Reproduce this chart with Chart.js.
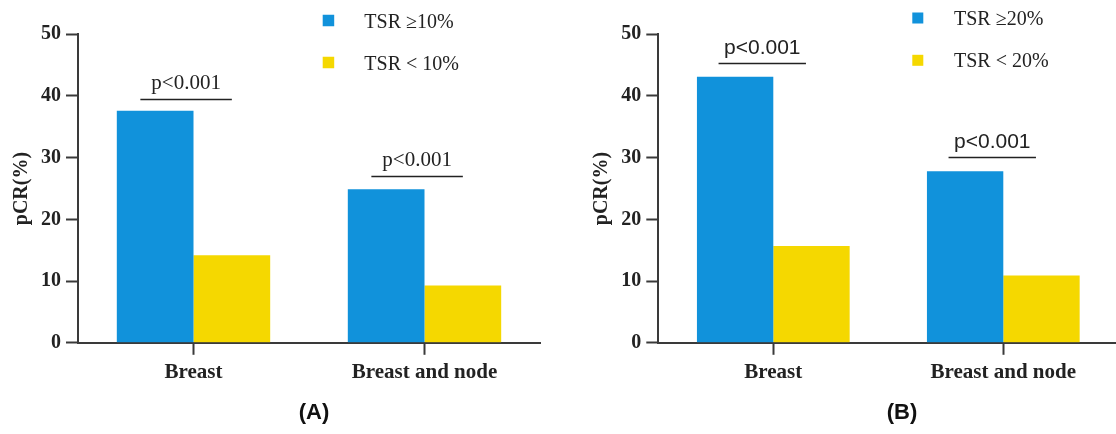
<!DOCTYPE html>
<html>
<head>
<meta charset="utf-8">
<title>pCR by TSR</title>
<script src="https://cdn.jsdelivr.net/npm/chart.js@4.4.1/dist/chart.umd.min.js"></script>
<style>
  html, body { margin: 0; padding: 0; background: #fff; overflow: hidden; }
  .panel { position: absolute; top: 0; }
  #panelA { left: 0; }
  #panelB { left: 560px; }
</style>
</head>
<body>
<canvas id="panelA" class="panel" width="560" height="434"></canvas>
<canvas id="panelB" class="panel" width="560" height="434"></canvas>
<script>
// Data
const categories = ['Breast', 'Breast and node'];
const seriesLabelsA = ['TSR ≥10%', 'TSR < 10%'];
const seriesLabelsB = ['TSR ≥20%', 'TSR < 20%'];
const highTsrA = [37.6, 24.9];
const lowTsrA = [14.2, 9.3];
const highTsrB = [43.1, 27.8];
const lowTsrB = [15.7, 10.9];
const pValues = ['p<0.001', 'p<0.001'];
const pBarA = [39.5, 27.1];
const pBarB = [45.3, 30.1];
const yMax = 50;
const yStep = 10;

const BLUE = '#1192db';
const YELLOW = '#f5d800';
const INK = '#222222';
const AXIS = '#3a3a3a';
const SERIF = "'Liberation Serif', 'Times New Roman', serif";
const SANS = "'Liberation Sans', Arial, sans-serif";

// legend, p-value brackets and panel letter
const extrasPlugin = {
  id: 'extras',
  afterDraw(chart, args, opts) {
    const ctx = chart.ctx;
    const x = chart.scales.x;
    const y = chart.scales.y;
    ctx.save();

    // legend
    chart.data.datasets.forEach((ds, i) => {
      const lg = opts.legend;
      const cy = lg.y[i];
      ctx.fillStyle = ds.backgroundColor;
      ctx.fillRect(lg.boxX, cy - lg.box / 2, lg.box, lg.box);
      ctx.fillStyle = INK;
      ctx.font = '20px ' + SERIF;
      ctx.textAlign = 'left';
      ctx.textBaseline = 'alphabetic';
      ctx.fillText(ds.label, lg.textX, cy + 7);
    });

    // significance brackets
    const catW = (x.right - x.left) / categories.length;
    opts.pBars.forEach((val, i) => {
      const cx = x.getPixelForValue(i) + opts.pShift * catW;
      const half = opts.pHalf * catW;
      const py = Math.round(y.getPixelForValue(val)) + 0.5;
      ctx.strokeStyle = INK;
      ctx.lineWidth = 1.6;
      ctx.beginPath();
      ctx.moveTo(cx - half, py);
      ctx.lineTo(cx + half, py);
      ctx.stroke();
      ctx.fillStyle = INK;
      ctx.font = '21px ' + opts.pFont;
      ctx.textAlign = 'center';
      ctx.textBaseline = 'alphabetic';
      ctx.fillText(pValues[i], cx, py - opts.pGap);
    });

    // panel letter
    ctx.fillStyle = '#111';
    ctx.font = 'bold 22px ' + SANS;
    ctx.textAlign = 'center';
    ctx.textBaseline = 'alphabetic';
    ctx.fillText(opts.letter, opts.letterX, 419);
    ctx.restore();
  }
};

function makePanel(canvasId, labels, high, low, extras, padLeft, padRight) {
  return new Chart(document.getElementById(canvasId), {
    type: 'bar',
    data: {
      labels: categories,
      datasets: [
        { label: labels[0], data: high, backgroundColor: BLUE, borderWidth: 0 },
        { label: labels[1], data: low, backgroundColor: YELLOW, borderWidth: 0 }
      ]
    },
    options: {
      responsive: false,
      animation: false,
      devicePixelRatio: 1,
      categoryPercentage: 0.664,
      barPercentage: 1,
      layout: { padding: { left: padLeft, right: padRight, top: 34.3, bottom: 0 } },
      plugins: {
        legend: { display: false },
        tooltip: { enabled: false },
        extras: extras
      },
      scales: {
        x: {
          afterFit(scale) { scale.height = 91.2; },
          grid: {
            offset: false,
            drawOnChartArea: false,
            tickLength: 12,
            tickColor: AXIS,
            tickWidth: 2
          },
          border: { color: AXIS, width: 2 },
          ticks: {
            color: INK,
            padding: 5,
            font: { family: SERIF, size: 21, weight: 'bold' }
          }
        },
        y: {
          min: 0,
          max: yMax,
          afterFit(scale) { scale.width = 78; },
          grid: {
            drawOnChartArea: false,
            tickLength: 12,
            tickColor: AXIS,
            tickWidth: 2
          },
          border: { color: AXIS, width: 2 },
          ticks: {
            stepSize: yStep,
            color: INK,
            padding: 5,
            font: { family: SERIF, size: 20, weight: 'bold' }
          },
          title: {
            display: true,
            text: 'pCR(%)',
            color: INK,
            padding: { top: 10, bottom: 0 },
            font: { family: SERIF, size: 20, weight: 'bold' }
          }
        }
      }
    },
    plugins: [extrasPlugin]
  });
}

makePanel('panelA', seriesLabelsA, highTsrA, lowTsrA, {
  legend: { boxX: 322.7, box: 11.5, textX: 364.3, y: [20.5, 62.5] },
  pBars: pBarA, pShift: -0.032, pHalf: 0.198, pGap: 11, pFont: SERIF,
  letter: '(A)', letterX: 314
}, 0, 20);

makePanel('panelB', seriesLabelsB, highTsrB, lowTsrB, {
  legend: { boxX: 352.3, box: 11, textX: 394, y: [18, 60.3] },
  pBars: pBarB, pShift: -0.048, pHalf: 0.19, pGap: 10, pFont: SANS,
  letter: '(B)', letterX: 342
}, 20.3, 1.7);
</script>
</body>
</html>
